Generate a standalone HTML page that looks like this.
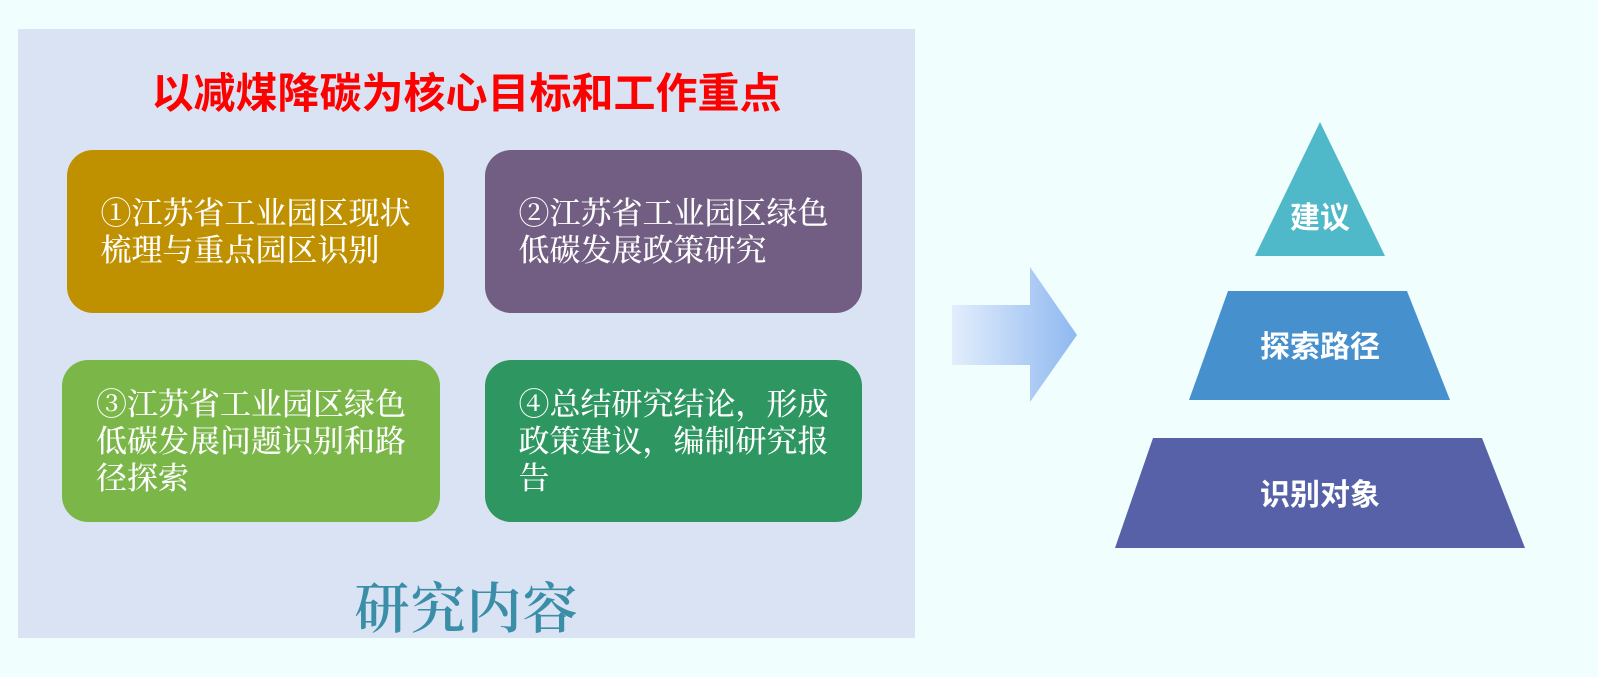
<!DOCTYPE html>
<html><head><meta charset="utf-8"><style>
body{margin:0;width:1598px;height:677px;background:#f0fefe;position:relative;overflow:hidden;font-family:"Liberation Serif","Noto Serif CJK SC",serif}
.panel{position:absolute;left:18px;top:29px;width:897px;height:609px;background:#dae3f3}
.title{position:absolute;left:18px;width:897px;top:60px;text-align:center;color:#ff0000;font:bold 42px "Liberation Sans","Noto Sans CJK SC",sans-serif}
.box{position:absolute;border-radius:26px;color:#fff;font-size:31px;line-height:37px;display:flex;align-items:center;justify-content:center;text-align:left;box-sizing:border-box;padding:0 20px;font-weight:500}
.box span{display:block}
.foot{position:absolute;left:18px;width:897px;top:565px;text-align:center;color:#3a8ea8;font-size:55px;font-weight:600;letter-spacing:1px}
</style></head><body>
<div class="panel"></div>
<div class="title">以减煤降碳为核心目标和工作重点</div>
<div class="box" style="left:67px;top:150px;width:377px;height:163px;background:#bf9000"><span>①江苏省工业园区现状<br>梳理与重点园区识别</span></div>
<div class="box" style="left:485px;top:150px;width:377px;height:163px;background:#725e82"><span>②江苏省工业园区绿色<br>低碳发展政策研究</span></div>
<div class="box" style="left:62px;top:360px;width:378px;height:162px;background:#7ab648"><span>③江苏省工业园区绿色<br>低碳发展问题识别和路<br>径探索</span></div>
<div class="box" style="left:485px;top:360px;width:377px;height:162px;background:#2e9660"><span>④总结研究结论，形成<br>政策建议，编制研究报<br>告</span></div>
<div class="foot">研究内容</div>
<svg style="position:absolute;left:0;top:0" width="1598" height="677">
<defs><linearGradient id="g" x1="0" x2="1"><stop offset="0" stop-color="#e3eefc"/><stop offset="1" stop-color="#8fb8f0"/></linearGradient></defs>
<path d="M952 305 H1030 V267 L1077 335 L1030 402 V365 H952 Z" fill="url(#g)"/>
<polygon points="1320,122 1385,256 1255,256" fill="#4fb8c9"/>
<polygon points="1228,291 1407,291 1450,400 1189,400" fill="#4690cd"/>
<polygon points="1153,438 1482,438 1525,548 1115,548" fill="#5661a8"/>
<g fill="#fff" font-family="Liberation Sans,Noto Sans CJK SC,sans-serif" font-weight="bold" font-size="30" text-anchor="middle">
<text x="1320" y="228">建议</text>
<text x="1320" y="357">探索路径</text>
<text x="1320" y="505">识别对象</text>
</g>
</svg>
</body></html>
